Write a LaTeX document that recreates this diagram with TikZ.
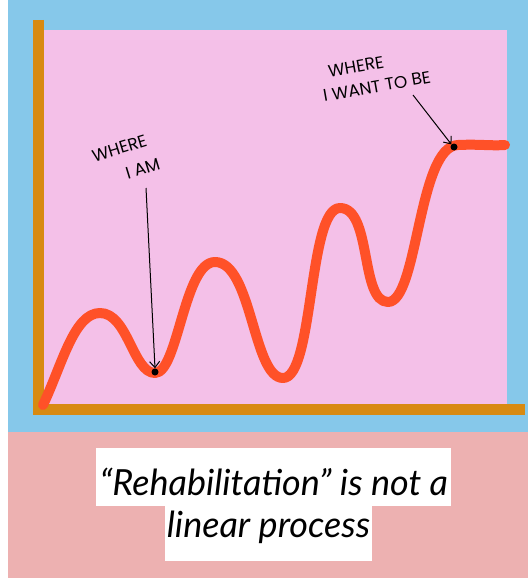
\documentclass[tikz,border=0pt]{standalone}
\usepackage{fontspec}
\usetikzlibrary{arrows.meta}
\newfontfamily\handfont{Poppins}
\newfontfamily\capfont{Lato}
\definecolor{skyblue}{HTML}{86C8EA}
\definecolor{plotpink}{HTML}{F4C0E8}
\definecolor{axisorange}{HTML}{D88A12}
\definecolor{curvered}{HTML}{FF5128}
\definecolor{bandpink}{HTML}{EDB1B1}
\tikzset{
  axisline/.style={axisorange, line width=11pt, line cap=butt},
  curveline/.style={curvered, line width=10pt, line cap=round, line join=round},
  pin/.style={circle, fill=black, inner sep=0pt, minimum size=7pt},
  lbl/.style={font=\handfont\fontsize{17}{20}\selectfont, inner sep=0pt, align=left},
  pointer/.style={black, line width=1pt, -{Straight Barb[length=6pt,width=10pt]}},
  captext/.style={font=\capfont\itshape\fontsize{36}{40}\selectfont, inner sep=0pt, anchor=base}
}
\begin{document}
\begin{tikzpicture}[x=1pt,y=1pt]
\useasboundingbox (0,0) rectangle (528,-578);
\fill[white] (0,0) rectangle (528,-578);
\fill[skyblue] (8,0) rectangle (528,-432);
\fill[bandpink] (8,-432) rectangle (528,-578);
\fill[plotpink] (42,-30) rectangle (507,-405);
% axes
\draw[axisline] (38.5,-20) -- (38.5,-415);
\draw[axisline] (33,-409.5) -- (525,-409.5);
% curve
\draw[curveline] (43,-405)
  .. controls (62,-365) and (74,-313) .. (100,-313)
  .. controls (128,-313) and (133,-373) .. (155,-373)
  .. controls (178,-373) and (184,-262) .. (215,-262)
  .. controls (252,-262) and (253,-378) .. (283,-378)
  .. controls (314,-378) and (308,-208) .. (340,-208)
  .. controls (372,-208) and (360,-302) .. (388,-302)
  .. controls (418,-302) and (418,-146) .. (458,-145)
  .. controls (480,-144) and (490,-146) .. (505,-145);
% pins
\node[pin] (dot1) at (155,-372) {};
\node[pin] (dot2) at (454,-147) {};
% labels
\begin{scope}[transform canvas={rotate around={17:(126,-160)}}]
\node[lbl] (lab1) at (126,-160) {WHERE\\[6pt]\hspace*{27pt}I AM};
\end{scope}
\begin{scope}[transform canvas={rotate around={10:(375,-75)}}]
\node[lbl] (lab2) at (375,-75) {\hspace*{9pt}WHERE\\[3pt]I WANT TO BE};
\end{scope}
\coordinate (a1) at (146,-188);
\coordinate (a2) at (413,-95);
\draw[pointer] (a1) -- (dot1.north);
\draw[pointer] (a2) -- (dot2.north west);
% caption
\fill[white] (96,-448) rectangle (451,-506);
\fill[white] (165,-506) rectangle (372,-561);
\node[captext] (cap1) at (274,-495) {“Rehabilitation” is not a};
\node[captext] (cap2) at (268.5,-537) {linear process};
\end{tikzpicture}
\end{document}
